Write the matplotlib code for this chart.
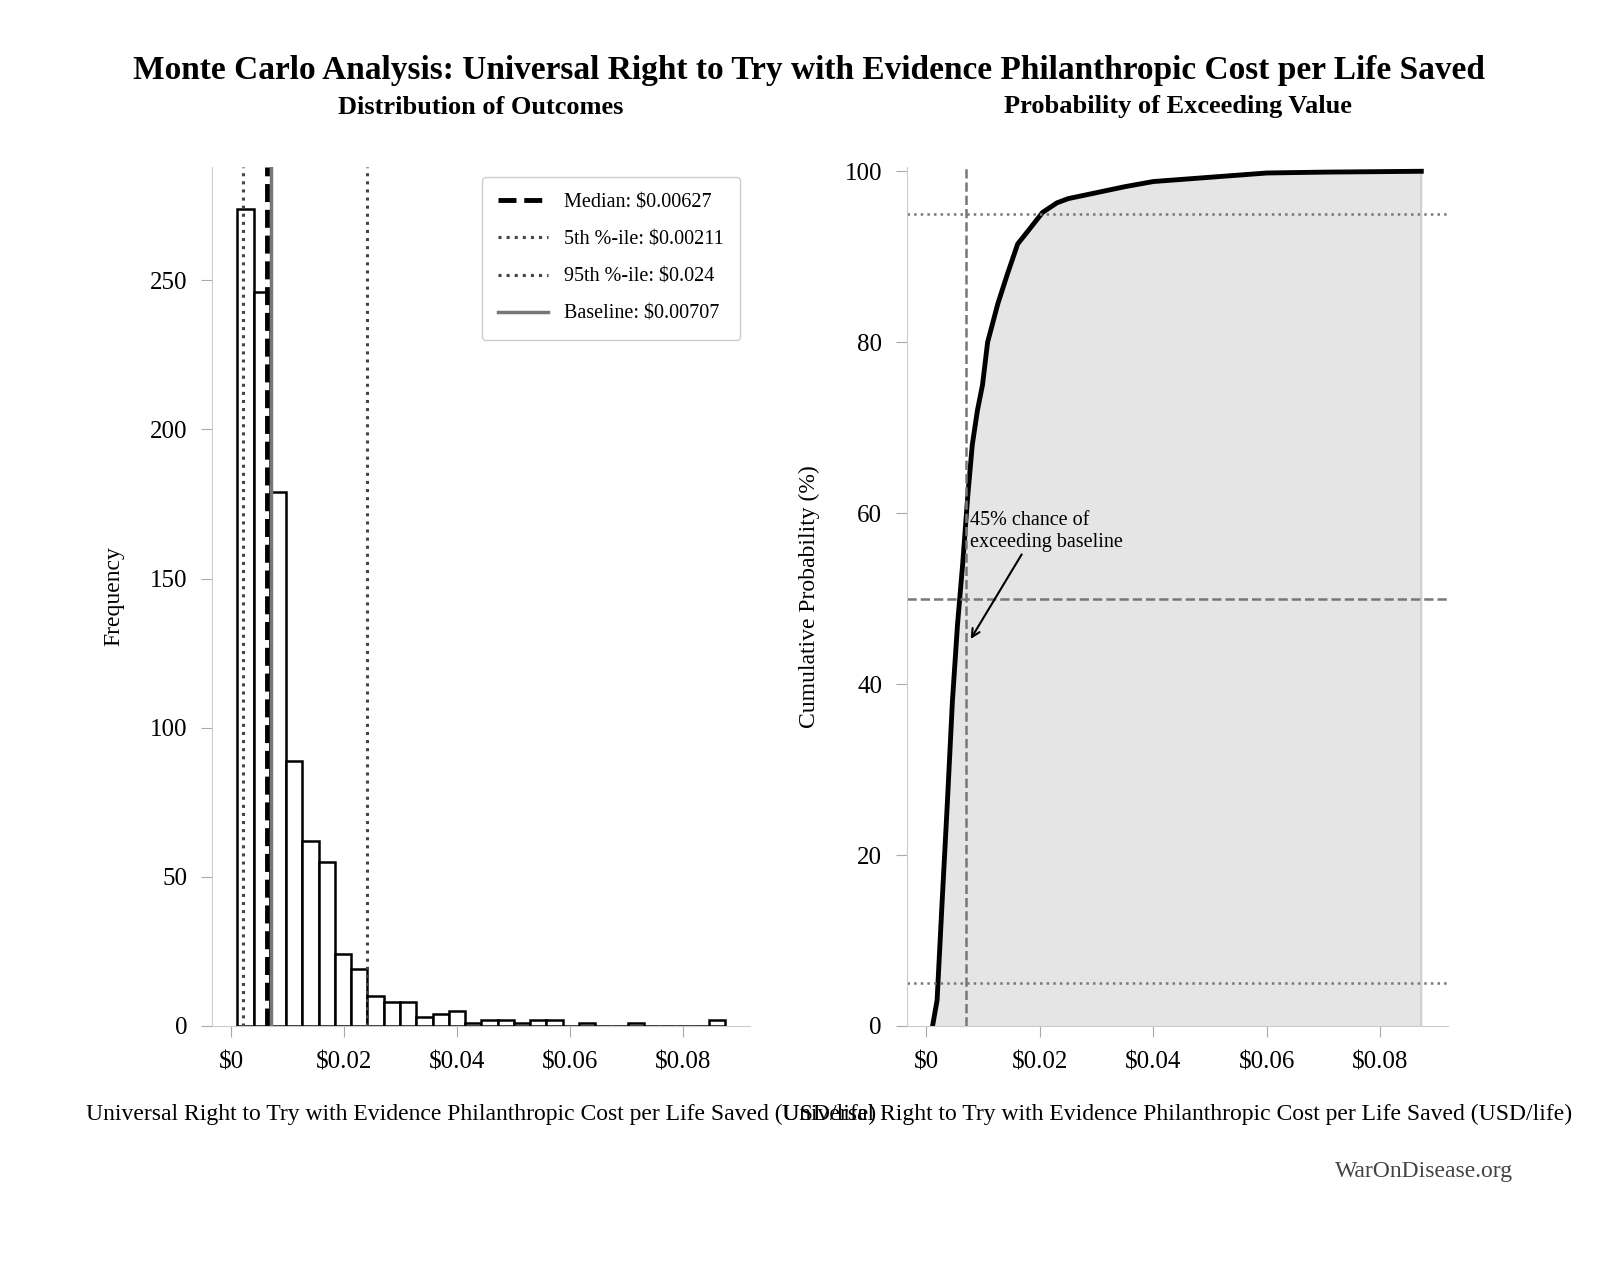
import numpy as np
import matplotlib
matplotlib.use("Agg")
import matplotlib.pyplot as plt

plt.rcParams.update({"font.family": ["Liberation Serif", "DejaVu Serif"], "font.size": 17})

# histogram: 30 bins
bin_lo, bin_hi = 0.0011, 0.0875
counts = [274, 246, 179, 89, 62, 55, 24, 19, 10, 8, 8, 3, 4, 5, 1, 2, 2, 1, 2, 2,
          0, 1, 0, 0, 1, 0, 0, 0, 0, 2]
median, p5, p95, baseline = 0.00627, 0.00211, 0.024, 0.00707

# cumulative curve
cdf_x = [0.0011, 0.0019, 0.0028, 0.0037, 0.0046, 0.0055, 0.0064, 0.0073, 0.0081, 0.009,
         0.0099, 0.0108, 0.0126, 0.0143, 0.0161, 0.0179, 0.0205, 0.023, 0.025, 0.03,
         0.035, 0.04, 0.05, 0.06, 0.07, 0.0872]
cdf_y = [0, 3, 14.7, 26, 38, 47, 54, 62, 68, 72, 75, 80, 84.5, 88, 91.5, 93, 95.2, 96.3,
         96.8, 97.5, 98.2, 98.8, 99.3, 99.8, 99.9, 100]

XLABEL = "Universal Right to Try with Evidence Philanthropic Cost per Life Saved (USD/life)"
fmt = matplotlib.ticker.FuncFormatter(lambda v, p: "$0" if v == 0 else f"${v:g}")

fig = plt.figure(figsize=(16.18, 12.8), dpi=100)
ax1 = fig.add_axes([212 / 1618, 1 - 1026 / 1280, 538 / 1618, 859 / 1280])
ax2 = fig.add_axes([907 / 1618, 1 - 1026 / 1280, 541 / 1618, 859 / 1280])

for ax in (ax1, ax2):
    for s in ("top", "right"):
        ax.spines[s].set_visible(False)
    for s in ("left", "bottom"):
        ax.spines[s].set_color("#cccccc")
    ax.tick_params(length=8, color="#aaaaaa", labelsize=18, pad=10)
    ax.set_xlim(-0.0034, 0.0919)
    ax.set_xticks([0, 0.02, 0.04, 0.06, 0.08])
    ax.xaxis.set_major_formatter(fmt)
    ax.set_xlabel(XLABEL, fontsize=17, labelpad=22)

edges = np.linspace(bin_lo, bin_hi, len(counts) + 1)
ax1.bar(edges[:-1], counts, width=np.diff(edges), align="edge", facecolor="white",
        edgecolor="black", lw=1.8)
ax1.axvline(median, color="black", ls="--", lw=3.5, label=f"Median: ${median}")
ax1.axvline(p5, color="#444444", ls=":", lw=2.2, label=f"5th %-ile: ${p5}")
ax1.axvline(p95, color="#444444", ls=":", lw=2.2, label=f"95th %-ile: ${p95}")
ax1.axvline(baseline, color="#777777", ls="-", lw=2.5, label=f"Baseline: ${baseline}")
ax1.set_ylim(0, 288)
ax1.set_yticks([0, 50, 100, 150, 200, 250])
ax1.set_ylabel("Frequency", fontsize=17, labelpad=18)
ax1.legend(loc="upper right", fontsize=14.5, handlelength=2.5, borderpad=0.8,
           labelspacing=0.9, framealpha=1, edgecolor="#cccccc")

ax2.fill_between(cdf_x + [cdf_x[-1]], cdf_y + [0], color="#e5e5e5")
ax2.plot([cdf_x[-1], cdf_x[-1]], [0, 100], color="#d0d0d0", lw=1.5)
ax2.plot(cdf_x, cdf_y, color="black", lw=3.5)
ax2.axvline(baseline, color="#777777", ls="--", lw=1.8)
ax2.axhline(50, color="#777777", ls="--", lw=1.8)
ax2.axhline(95, color="#777777", ls=":", lw=1.8)
ax2.axhline(5, color="#777777", ls=":", lw=1.8)
ax2.set_ylim(0, 100.5)
ax2.set_yticks([0, 20, 40, 60, 80, 100])
ax2.set_ylabel("Cumulative Probability (%)", fontsize=17, labelpad=18)
ax2.annotate("45% chance of\nexceeding baseline", xy=(baseline + 0.0005, 45),
             xytext=(baseline + 0.0006, 55.5), fontsize=14.5,
             arrowprops=dict(arrowstyle="->", color="black", lw=1.5, shrinkA=0,
                             relpos=(0.35, 0)),
             ha="left", va="bottom")

fig.text(0.5, 1 - 70 / 1280, "Monte Carlo Analysis: Universal Right to Try with Evidence Philanthropic Cost per Life Saved",
         ha="center", va="center", fontsize=24, fontweight="bold")
fig.text(481 / 1618, 1 - 107 / 1280, "Distribution of Outcomes", ha="center", va="center",
         fontsize=19, fontweight="bold")
fig.text(1178 / 1618, 1 - 107 / 1280, "Probability of Exceeding Value", ha="center", va="center",
         fontsize=19, fontweight="bold")
fig.text(1513 / 1618, 1 - 1172 / 1280, "WarOnDisease.org", ha="right", va="center",
         fontsize=17, color="#444444")

fig.savefig("out.png", dpi=100)
